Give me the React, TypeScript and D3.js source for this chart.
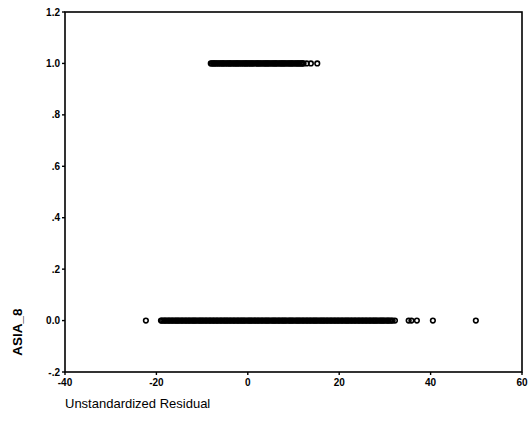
import React from 'react';
import * as d3 from 'd3';

// residuals of cases with ASIA_8 = 1
const residAsia1 = [
  -8.1, -7.6, -7.2, -6.7, -6.1, -5.6, -5.2, -4.6, -4.1, -3.7, -3.1, -2.6, -2.2, -1.7,
  -1.1, -0.6, -0.2, 0.3, 0.8, 1.3, 1.9, 2.3, 2.8, 3.4, 3.9, 4.3, 4.8, 5.4, 5.9, 6.3,
  6.9, 7.4, 7.8, 8.3, 8.9, 9.4, 9.8, 10.4, 10.9, 11.3, 11.8, 12.2, 12.9, 13.8, 15.2
];
const residAsia1b = [
  -7.9, -7.4, -6.9, -6.4, -5.9, -5.4, -4.9, -4.4, -3.9, -3.4, -2.9, -2.4, -1.9, -1.4,
  -0.9, -0.4, 0.1, 0.6, 1.1, 1.6, 2.1, 2.6, 3.1, 3.6, 4.1, 4.6, 5.1, 5.6, 6.1, 6.6,
  7.1, 7.6, 8.1, 8.6, 9.1, 9.6, 10.1, 10.6, 11.1, 11.6, 12.0
];

// residuals of cases with ASIA_8 = 0
const residAsia0 = [
  -22.3, -19.0, -18.5, -18.0, -17.4, -16.9, -16.4, -15.8, -15.3, -14.8, -14.3, -13.7,
  -13.2, -12.7, -12.1, -11.6, -11.1, -10.5, -10.0, -9.5, -9.0, -8.4, -7.9, -7.4, -6.8,
  -6.3, -5.8, -5.2, -4.7, -4.2, -3.7, -3.1, -2.6, -2.1, -1.5, -1.0, -0.5, 0.1, 0.6, 1.1,
  1.6, 2.2, 2.7, 3.2, 3.8, 4.3, 4.8, 5.4, 5.9, 6.4, 6.9, 7.5, 8.0, 8.5, 9.1, 9.6, 10.1,
  10.7, 11.2, 11.7, 12.2, 12.8, 13.3, 13.8, 14.4, 14.9, 15.4, 16.0, 16.5, 17.0, 17.5,
  18.1, 18.6, 19.1, 19.7, 20.2, 20.7, 21.3, 21.8, 22.3, 22.8, 23.4, 23.9, 24.4, 25.0,
  25.5, 26.0, 26.6, 27.1, 27.6, 28.1, 28.7, 29.2, 29.7, 30.3, 30.8, 31.4, 32.2,
  35.2, 37.0, 40.5, 49.9
];
const residAsia0b = [
  -18.8, -18.2, -17.7, -17.2, -16.6, -16.1, -15.6, -15.1, -14.5, -14.0, -13.5, -12.9,
  -12.4, -11.9, -11.4, -10.8, -10.3, -9.8, -9.2, -8.7, -8.2, -7.6, -7.1, -6.6, -6.0,
  -5.5, -5.0, -4.5, -3.9, -3.4, -2.9, -2.3, -1.8, -1.3, -0.8, -0.2, 0.3, 0.8, 1.4, 1.9,
  2.4, 3.0, 3.5, 4.0, 4.5, 5.1, 5.6, 6.1, 6.7, 7.2, 7.7, 8.2, 8.8, 9.3, 9.8, 10.4,
  10.9, 11.4, 12.0, 12.5, 13.0, 13.6, 14.1, 14.6, 15.1, 15.7, 16.2, 16.7, 17.3, 17.8,
  18.3, 18.9, 19.4, 19.9, 20.5, 21.0, 21.5, 22.0, 22.6, 23.1, 23.6, 24.2, 24.7, 25.2,
  25.8, 26.3, 26.8, 27.4, 27.9, 28.4, 29.0, 29.5, 30.0, 30.6, 31.1, 31.7, 35.8
];

const xTicks = [-40, -20, 0, 20, 40, 60];
const yTicks = [1.2, 1.0, 0.8, 0.6, 0.4, 0.2, 0.0, -0.2];
const yTickLabels = ['1.2', '1.0', '.8', '.6', '.4', '.2', '0.0', '-.2'];

export default function App() {
  const width = 532;
  const height = 442;
  const left = 65, right = 522, top = 12, bottom = 372;

  const x = d3.scaleLinear().domain([-40, 60]).range([left, right]);
  const y = d3.scaleLinear().domain([-0.2, 1.2]).range([bottom, top]);

  const font = '"Liberation Sans", Arial, sans-serif';

  const points = [
    ...residAsia0.map(v => ({ v, g: 0 })),
    ...residAsia0b.map(v => ({ v, g: 0 })),
    ...residAsia1.map(v => ({ v, g: 1 })),
    ...residAsia1b.map(v => ({ v, g: 1 }))
  ];

  return (
    <svg
      width={width}
      height={height}
      style={{ position: 'absolute', left: 0, top: 0, background: '#fff' }}
    >
      <rect x={left} y={top} width={right - left} height={bottom - top}
        fill="none" stroke="#000" strokeWidth={1.6} />

      {yTicks.map((t, i) => (
        <g key={'y' + i}>
          <line x1={left - 3} x2={left} y1={y(t)} y2={y(t)} stroke="#000" strokeWidth={1.4} />
          <text x={left - 5} y={y(t)} dy="0.35em" textAnchor="end"
            fontFamily={font} fontSize={10} fontWeight="bold">{yTickLabels[i]}</text>
        </g>
      ))}

      {xTicks.map((t, i) => (
        <g key={'x' + i}>
          <line x1={x(t)} x2={x(t)} y1={bottom} y2={bottom + 3} stroke="#000" strokeWidth={1.4} />
          <text x={x(t)} y={bottom + 14} textAnchor="middle"
            fontFamily={font} fontSize={10} fontWeight="bold">{t}</text>
        </g>
      ))}

      {points.map((p, i) => (
        <circle key={i} cx={x(p.v)} cy={y(p.g)} r={2.3}
          fill="none" stroke="#000" strokeWidth={1.6} />
      ))}

      <text transform={`translate(22,${332}) rotate(-90)`} textAnchor="middle"
        fontFamily={font} fontSize={13.5} fontWeight="bold">ASIA_8</text>

      <text x={65} y={408} fontFamily={font} fontSize={13}>Unstandardized Residual</text>
    </svg>
  );
}
